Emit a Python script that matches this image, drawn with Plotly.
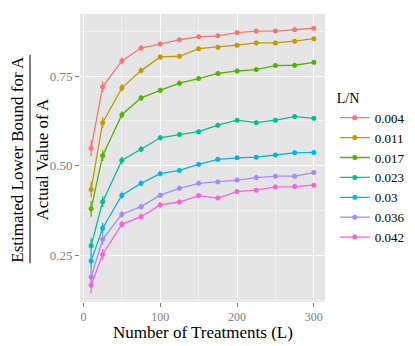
import plotly.graph_objects as go

# number of treatments (x) and the L/N groups
treatments = [10, 25, 50, 75, 100, 125, 150, 175, 200, 225, 250, 275, 300]
groups = ["0.004", "0.011", "0.017", "0.023", "0.03", "0.036", "0.042"]

# ratio estimated / actual
r_004 = [0.549, 0.720, 0.792, 0.828, 0.839, 0.851, 0.859, 0.862, 0.871, 0.875, 0.875, 0.879, 0.883]
r_011 = [0.434, 0.620, 0.717, 0.765, 0.803, 0.805, 0.826, 0.830, 0.836, 0.842, 0.842, 0.847, 0.854]
r_017 = [0.380, 0.528, 0.642, 0.689, 0.710, 0.730, 0.743, 0.757, 0.764, 0.768, 0.779, 0.780, 0.788]
r_023 = [0.277, 0.400, 0.515, 0.546, 0.578, 0.587, 0.595, 0.613, 0.627, 0.620, 0.627, 0.637, 0.632]
r_030 = [0.235, 0.326, 0.418, 0.451, 0.478, 0.487, 0.504, 0.518, 0.522, 0.524, 0.530, 0.536, 0.537]
r_036 = [0.190, 0.295, 0.365, 0.386, 0.418, 0.437, 0.451, 0.455, 0.460, 0.467, 0.471, 0.471, 0.481]
r_042 = [0.167, 0.253, 0.337, 0.358, 0.391, 0.399, 0.417, 0.410, 0.428, 0.432, 0.441, 0.442, 0.446]

# half widths of the error bars (same for every group, roughly)
err = [0.022, 0.015, 0.010, 0.008, 0.007, 0.007, 0.006, 0.006, 0.006, 0.006, 0.006, 0.006, 0.006]

series = [r_004, r_011, r_017, r_023, r_030, r_036, r_042]
colors = ["#F8766D", "#C49A00", "#53B400", "#00C094", "#00B6EB", "#A58AFF", "#FB61D7"]

fig = go.Figure()
for name, vals, col in zip(groups, series, colors):
    fig.add_trace(go.Scatter(
        x=treatments, y=vals, name=name, mode="lines+markers",
        line=dict(color=col, width=1.3),
        marker=dict(color=col, size=5),
        error_y=dict(type="data", array=err, color=col, thickness=1.3, width=0),
    ))

serif = "Liberation Serif, Times New Roman, serif"
# page has an 8px body margin, so the figure is shifted up/left by that much
fig.update_layout(
    width=407, height=338,
    margin=dict(l=72, r=90, t=6, b=44, autoexpand=False),
    paper_bgcolor="white",
    plot_bgcolor="#E5E5E5",
    font=dict(family=serif, color="black"),
    showlegend=True,
    legend=dict(
        title=dict(text="L/N", font=dict(size=14, family=serif)),
        x=1.04, xanchor="left", y=0.755, yanchor="top",
        font=dict(size=13, family=serif), tracegroupgap=0, itemwidth=30,
    ),
    xaxis=dict(
        range=[-4.5, 314.5], tickvals=[0, 100, 200, 300],
        showgrid=True, gridcolor="white", gridwidth=1.2,
        minor=dict(tickvals=[50, 150, 250], showgrid=True, gridcolor="#F2F2F2", gridwidth=0.6),
        ticks="outside", ticklen=4, tickcolor="#7F7F7F",
        tickfont=dict(size=12, color="#7F7F7F", family=serif),
        zeroline=False, automargin=False,
    ),
    yaxis=dict(
        range=[0.1205, 0.9227], tickvals=[0.25, 0.5, 0.75], ticktext=["0.25", "0.50", "0.75"],
        showgrid=True, gridcolor="white", gridwidth=1.2,
        minor=dict(tickvals=[0.125, 0.375, 0.625, 0.875], showgrid=True, gridcolor="#F2F2F2", gridwidth=0.6),
        ticks="outside", ticklen=4, tickcolor="#7F7F7F",
        tickfont=dict(size=13, color="#7F7F7F", family=serif),
        zeroline=False, automargin=False,
    ),
)

# x-axis title placed by hand
fig.add_annotation(text="Number of Treatments (L)", xref="paper", yref="paper",
                   x=0.5, y=-0.107, xanchor="center", yanchor="middle", showarrow=False,
                   borderpad=0, font=dict(size=17, family=serif, color="black"))

# fraction style y-axis title
fig.add_annotation(text="Estimated Lower Bound for A", xref="paper", yref="paper",
                   x=-0.254, y=0.497, xanchor="center", yanchor="middle",
                   textangle=-90, showarrow=False, borderpad=0,
                   font=dict(size=17, family=serif, color="black"))
fig.add_annotation(text="Actual Value of A", xref="paper", yref="paper",
                   x=-0.152, y=0.497, xanchor="center", yanchor="middle",
                   textangle=-90, showarrow=False, borderpad=0,
                   font=dict(size=17, family=serif, color="black"))
fig.add_shape(type="line", xref="paper", yref="paper",
              x0=-0.204, x1=-0.204, y0=0.135, y1=0.858,
              line=dict(color="black", width=1))

fig.write_html("out.html")
